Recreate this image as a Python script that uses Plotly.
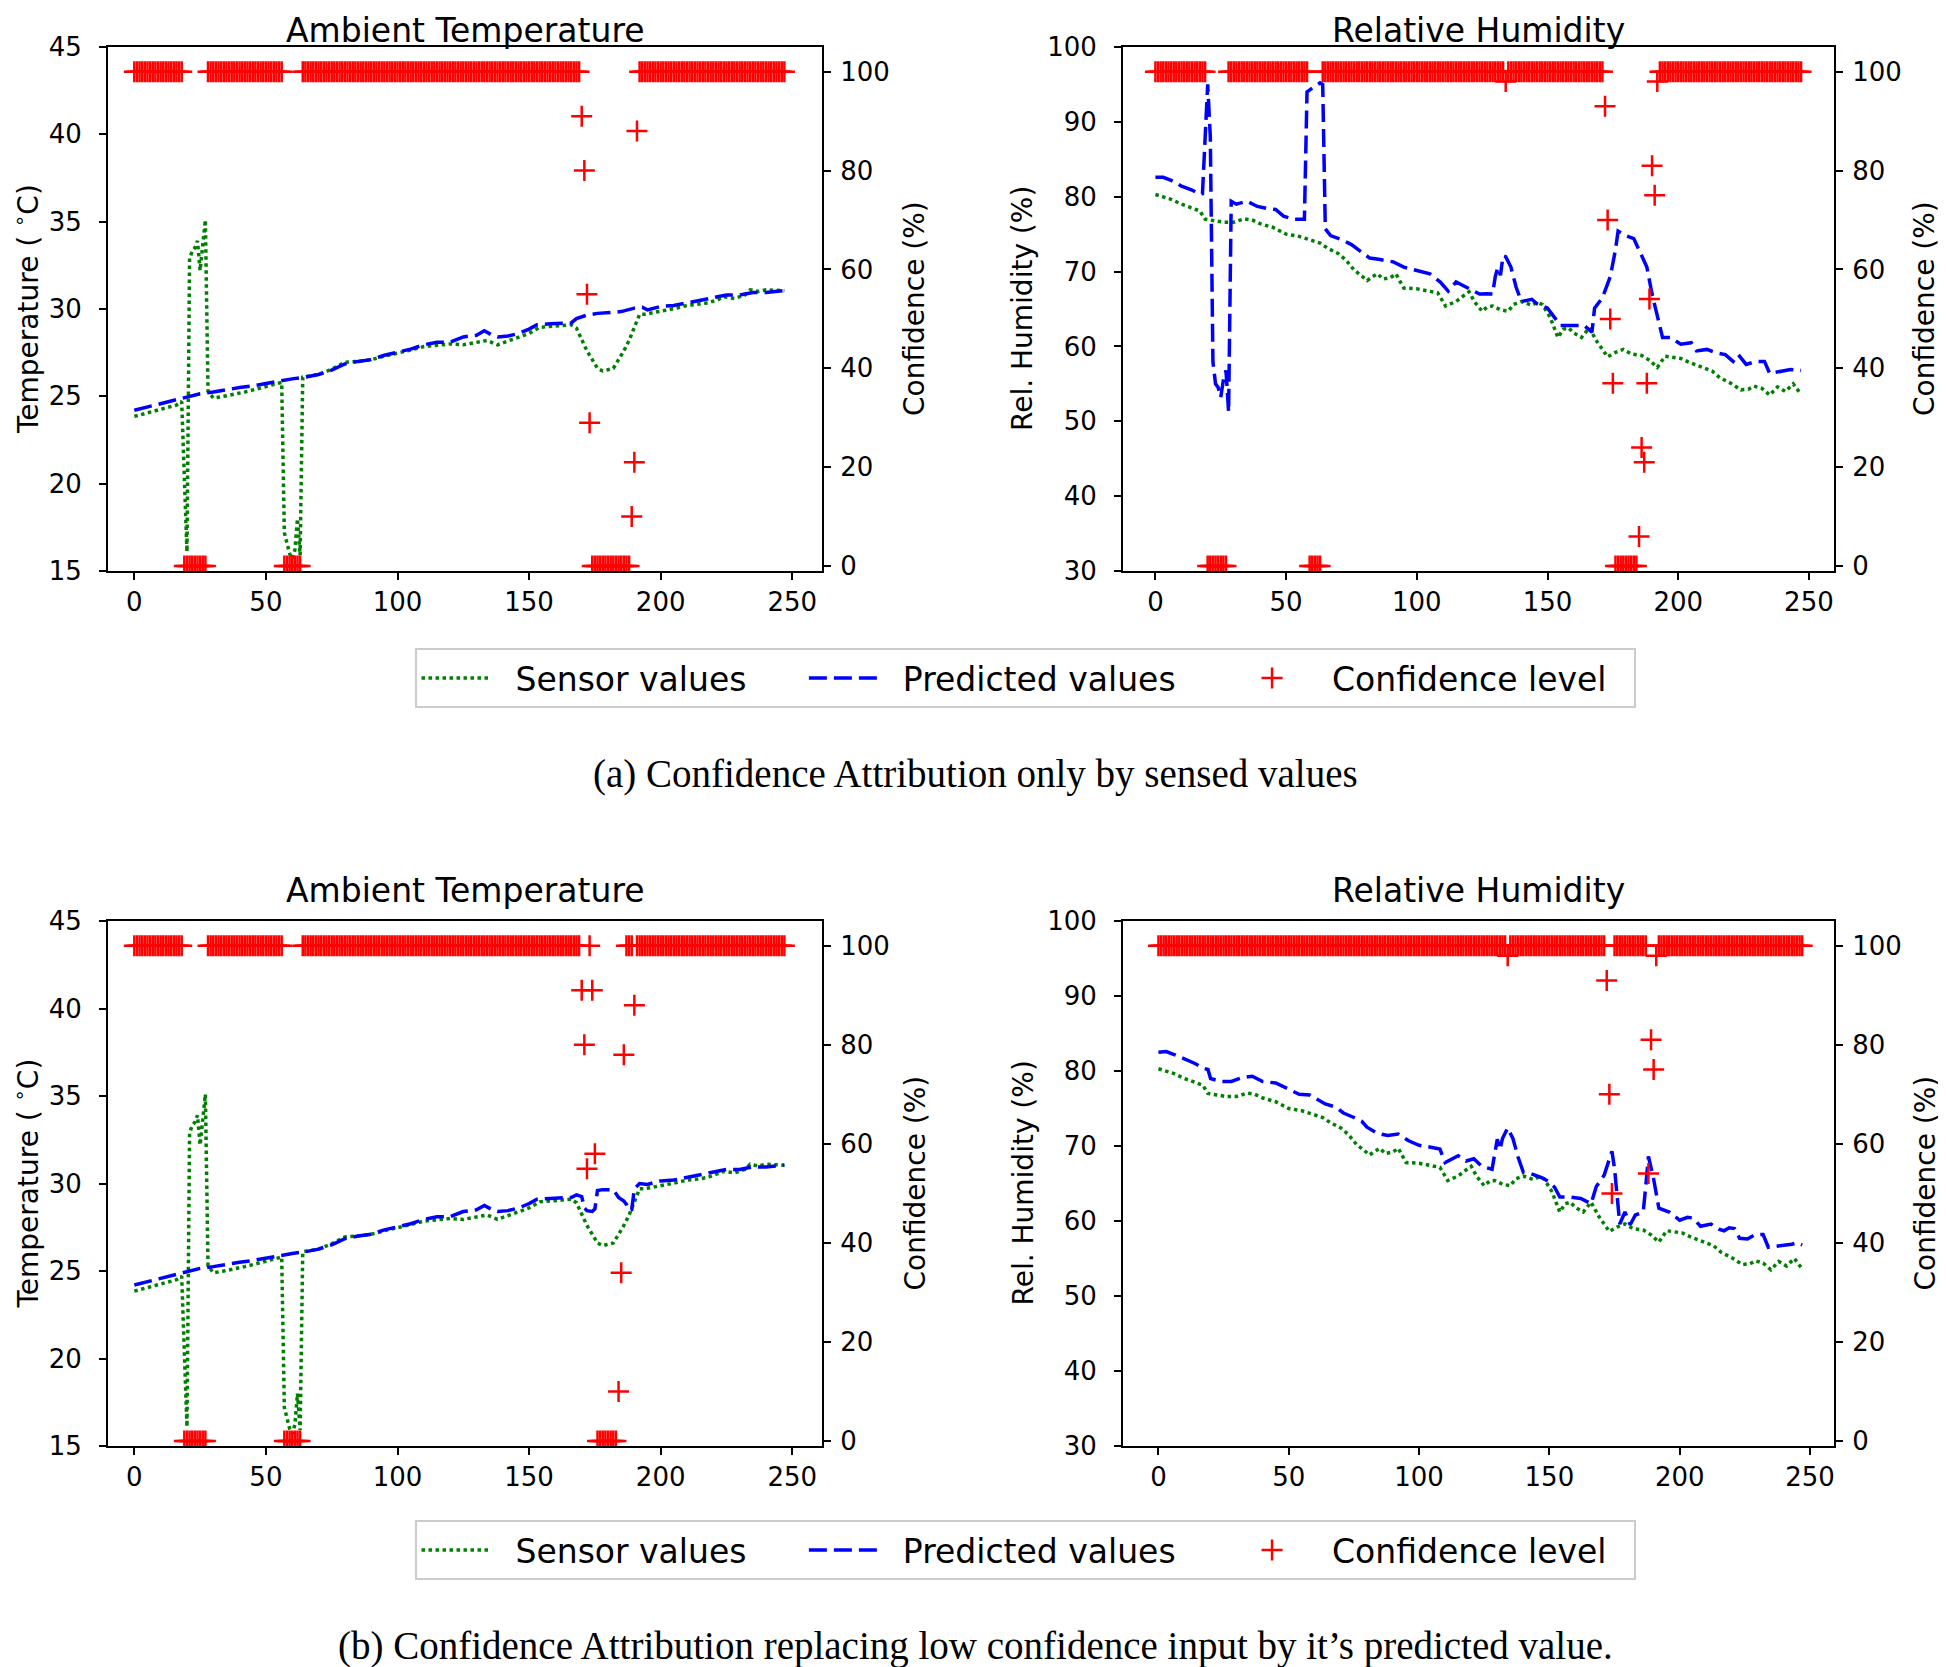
import plotly.graph_objects as go

W, H = 1946, 1667

# ---------------- data ----------------
temp_sensor_x = [0, 4, 8, 12, 16, 18, 19, 20, 21, 22, 23, 24, 25, 26, 27, 28, 30, 34, 38, 42, 46, 50, 54,
                 56, 57, 58, 59, 60, 61, 62, 63, 64, 66, 70, 75, 80, 85, 90, 95, 100, 105, 110, 115, 120,
                 125, 130, 134, 138, 142, 146, 150, 154, 158, 162, 166, 168, 170, 172, 174, 176, 178, 180,
                 182, 184, 186, 188, 190, 192, 194, 198, 202, 206, 210, 214, 218, 222, 224, 228, 232, 234,
                 237, 240, 244, 247]
temp_sensor = [23.85, 24.0, 24.15, 24.3, 24.5, 24.7, 20.3, 16.1, 32.9, 33.3, 33.5, 33.9, 32.2, 33.8, 35.1,
               25.3, 24.9, 25.0, 25.1, 25.25, 25.4, 25.55, 25.7, 25.8, 17.2, 16.6, 16.0, 15.7, 16.2, 18.0,
               15.9, 26.1, 26.15, 26.25, 26.55, 26.95, 27.0, 27.1, 27.3, 27.45, 27.65, 27.85, 27.95, 28.0,
               27.95, 28.1, 28.2, 27.95, 28.15, 28.35, 28.6, 28.95, 29.0, 29.05, 29.1, 28.9, 28.2, 27.6,
               27.1, 26.6, 26.45, 26.5, 26.6, 27.1, 27.6, 28.2, 28.9, 29.7, 29.7, 29.8, 29.9, 30.05, 30.2,
               30.25, 30.35, 30.55, 30.7, 30.6, 30.8, 31.1, 31.0, 31.1, 31.05, 31.05]

temp_pred_a_x = [0, 5, 10, 15, 20, 25, 30, 35, 40, 45, 50, 55, 60, 65, 70, 75, 80, 85, 90, 95, 100, 105,
                 110, 115, 120, 125, 130, 133, 136, 138, 142, 146, 150, 153, 158, 163, 166, 168, 172, 176,
                 180, 185, 190, 193, 195, 200, 205, 210, 215, 220, 225, 230, 235, 240, 247]
temp_pred_a = [24.2, 24.4, 24.6, 24.8, 25.0, 25.15, 25.25, 25.4, 25.5, 25.6, 25.75, 25.9, 26.0, 26.1,
               26.25, 26.5, 26.85, 27.0, 27.1, 27.35, 27.5, 27.7, 27.95, 28.1, 28.1, 28.4, 28.5, 28.75,
               28.5, 28.4, 28.45, 28.6, 28.85, 29.1, 29.15, 29.2, 29.2, 29.45, 29.65, 29.75, 29.8, 29.85,
               30.05, 30.1, 29.95, 30.15, 30.2, 30.35, 30.5, 30.6, 30.8, 30.8, 30.95, 30.95, 31.05]

temp_pred_b_x = [0, 5, 10, 15, 20, 25, 30, 35, 40, 45, 50, 55, 60, 65, 70, 75, 80, 85, 90, 95, 100, 105,
                 110, 115, 120, 125, 130, 133, 136, 138, 142, 146, 150, 153, 158, 163, 166, 168, 170, 171,
                 172, 174, 175, 176, 178, 182, 184, 186, 187, 188, 189, 190, 192, 195, 200, 205, 210, 215,
                 220, 225, 230, 235, 240, 247]
temp_pred_b = [24.2, 24.4, 24.6, 24.8, 25.0, 25.15, 25.25, 25.4, 25.5, 25.6, 25.75, 25.9, 26.0, 26.1,
               26.25, 26.5, 26.85, 27.0, 27.1, 27.35, 27.5, 27.7, 27.95, 28.1, 28.1, 28.4, 28.5, 28.75,
               28.5, 28.4, 28.45, 28.6, 28.85, 29.1, 29.15, 29.2, 29.2, 29.35, 29.25, 28.6, 28.45, 28.4,
               28.55, 29.6, 29.65, 29.65, 29.2, 29.0, 28.8, 28.45, 28.5, 29.7, 30.0, 29.95, 30.15, 30.2,
               30.35, 30.5, 30.6, 30.8, 30.8, 30.95, 30.95, 31.05]

hum_sensor_x = [0, 3, 6, 10, 14, 17, 19, 22, 26, 30, 34, 37, 40, 45, 50, 55, 60, 63, 66, 70, 73, 76, 79,
                81, 83, 85, 87, 90, 92, 95, 100, 105, 108, 111, 115, 118, 120, 122, 125, 127, 129, 132, 135,
                137, 140, 144, 146, 148, 151, 154, 156, 158, 160, 163, 166, 169, 173, 176, 179, 182, 186,
                189, 192, 195, 198, 201, 204, 207, 210, 213, 216, 220, 224, 227, 229, 232, 235, 238, 241,
                244, 247]
hum_sensor = [80.3, 80.0, 79.65, 79.0, 78.5, 78.1, 77.0, 76.8, 76.6, 76.6, 77.05, 76.9, 76.4, 75.9, 75.0,
              74.7, 74.2, 73.8, 73.1, 72.4, 71.5, 70.2, 69.4, 68.8, 69.3, 69.7, 69.0, 69.2, 69.7, 67.8,
              67.7, 67.4, 67.15, 65.4, 66.0, 66.8, 67.3, 66.0, 64.7, 65.3, 65.4, 64.9, 64.7, 65.6, 66.0,
              65.5, 65.9, 65.6, 63.9, 61.2, 62.3, 62.5, 61.8, 61.2, 62.5, 60.6, 58.6, 59.2, 59.6, 59.0,
              58.8, 58.15, 57.2, 58.7, 58.6, 58.4, 57.9, 57.5, 57.1, 56.7, 55.8, 55.1, 54.2, 54.3, 54.7,
              54.4, 53.5, 54.6, 54.0, 55.0, 53.6]

hum_pred_a_x = [0, 3, 6, 10, 14, 17, 18, 19, 20, 21, 22, 23, 24, 25, 26, 27, 28, 29, 31, 35, 39, 43, 46,
                49, 53, 57, 58, 60, 63, 64, 65, 67, 71, 75, 79, 82, 86, 91, 95, 100, 105, 109, 112, 115,
                119, 122, 124, 127, 129, 130, 131, 132, 133, 134, 136, 138, 140, 144, 146, 150, 153, 155,
                159, 164, 167, 168, 171, 174, 176, 177, 180, 183, 185, 188, 190, 192, 194, 197, 201, 205,
                207, 211, 214, 218, 221, 223, 226, 230, 233, 235, 239, 243, 247]
hum_pred_a = [82.6, 82.6, 82.2, 81.4, 80.9, 80.3, 80.4, 89.0, 95.0, 88.0, 58.0, 55.0, 54.5, 53.2, 55.5,
              56.8, 51.2, 79.4, 79.0, 79.4, 78.7, 78.4, 78.3, 77.4, 77.0, 77.0, 94.0, 94.5, 95.2, 95.0,
              75.7, 74.8, 74.3, 73.6, 72.6, 71.8, 71.6, 71.3, 70.6, 70.1, 69.7, 68.6, 67.4, 68.6, 67.9,
              67.4, 67.0, 67.05, 67.0, 69.3, 70.6, 69.5, 72.1, 72.0, 70.6, 67.9, 66.0, 66.3, 65.7, 65.1,
              63.7, 62.8, 62.8, 62.8, 61.9, 65.1, 66.5, 69.3, 72.9, 75.4, 74.8, 74.4, 72.9, 70.6, 67.0,
              64.2, 61.2, 61.2, 60.3, 60.5, 59.4, 59.6, 59.2, 58.9, 58.0, 58.9, 57.6, 58.0, 58.0, 56.4,
              56.7, 56.9, 56.8]

hum_pred_b_x = [0, 3, 6, 10, 14, 17, 19, 20, 24, 28, 32, 36, 40, 45, 50, 54, 58, 62, 64, 68, 71, 75, 78,
                80, 84, 88, 92, 96, 100, 105, 108, 110, 113, 115, 118, 121, 124, 128, 130, 131, 132, 134,
                136, 138, 140, 143, 147, 150, 152, 154, 158, 162, 166, 168, 171, 174, 175, 176, 177, 179,
                181, 183, 186, 187, 188, 190, 192, 196, 200, 203, 205, 208, 212, 215, 217, 219, 221, 223,
                226, 229, 232, 234, 237, 240, 243, 245, 247]
hum_pred_b = [82.5, 82.6, 82.2, 81.6, 81.0, 80.4, 80.2, 79.0, 78.6, 78.6, 79.1, 79.3, 78.6, 78.4, 77.5,
              76.9, 76.8, 76.0, 75.6, 75.2, 74.4, 73.8, 73.3, 72.5, 71.7, 71.4, 71.6, 70.7, 70.1, 69.8,
              69.6, 67.8, 68.4, 68.7, 68.0, 68.3, 67.3, 66.9, 70.9, 69.5, 71.0, 72.4, 71.0, 68.5, 66.5,
              66.3, 65.8, 65.2, 64.5, 63.2, 63.2, 63.0, 62.3, 64.6, 66.1, 69.3, 67.0, 63.0, 59.6, 61.2,
              59.5, 60.8, 61.2, 64.7, 68.6, 65.6, 61.7, 61.2, 60.1, 60.5, 60.4, 59.3, 59.6, 58.9, 58.7,
              59.1, 59.0, 57.7, 57.6, 58.2, 58.2, 56.5, 56.6, 56.8, 56.9, 57.1, 56.8]

# confidence level for every time step 0..247
conf_x = list(range(248))
conf_temp_a = [
    100, 100, 100, 100, 100, 100, 100, 100, 100, 100, 100, 100, 100, 100, 100, 100, 100, 100, 100, 0,
    0, 0, 0, 0, 0, 0, 0, 0, 100, 100, 100, 100, 100, 100, 100, 100, 100, 100, 100, 100,
    100, 100, 100, 100, 100, 100, 100, 100, 100, 100, 100, 100, 100, 100, 100, 100, 100, 0, 0, 0,
    0, 0, 0, 0, 100, 100, 100, 100, 100, 100, 100, 100, 100, 100, 100, 100, 100, 100, 100, 100,
    100, 100, 100, 100, 100, 100, 100, 100, 100, 100, 100, 100, 100, 100, 100, 100, 100, 100, 100, 100,
    100, 100, 100, 100, 100, 100, 100, 100, 100, 100, 100, 100, 100, 100, 100, 100, 100, 100, 100, 100,
    100, 100, 100, 100, 100, 100, 100, 100, 100, 100, 100, 100, 100, 100, 100, 100, 100, 100, 100, 100,
    100, 100, 100, 100, 100, 100, 100, 100, 100, 100, 100, 100, 100, 100, 100, 100, 100, 100, 100, 100,
    100, 100, 100, 100, 100, 100, 100, 100, 100, 100, 91, 80, 55, 29, 0, 0, 0, 0, 0, 0,
    0, 0, 0, 0, 0, 0, 0, 0, 0, 10, 21, 88, 100, 100, 100, 100, 100, 100, 100, 100,
    100, 100, 100, 100, 100, 100, 100, 100, 100, 100, 100, 100, 100, 100, 100, 100, 100, 100, 100, 100,
    100, 100, 100, 100, 100, 100, 100, 100, 100, 100, 100, 100, 100, 100, 100, 100, 100, 100, 100, 100,
    100, 100, 100, 100, 100, 100, 100, 100]
conf_temp_b = [
    100, 100, 100, 100, 100, 100, 100, 100, 100, 100, 100, 100, 100, 100, 100, 100, 100, 100, 100, 0,
    0, 0, 0, 0, 0, 0, 0, 0, 100, 100, 100, 100, 100, 100, 100, 100, 100, 100, 100, 100,
    100, 100, 100, 100, 100, 100, 100, 100, 100, 100, 100, 100, 100, 100, 100, 100, 100, 0, 0, 0,
    0, 0, 0, 0, 100, 100, 100, 100, 100, 100, 100, 100, 100, 100, 100, 100, 100, 100, 100, 100,
    100, 100, 100, 100, 100, 100, 100, 100, 100, 100, 100, 100, 100, 100, 100, 100, 100, 100, 100, 100,
    100, 100, 100, 100, 100, 100, 100, 100, 100, 100, 100, 100, 100, 100, 100, 100, 100, 100, 100, 100,
    100, 100, 100, 100, 100, 100, 100, 100, 100, 100, 100, 100, 100, 100, 100, 100, 100, 100, 100, 100,
    100, 100, 100, 100, 100, 100, 100, 100, 100, 100, 100, 100, 100, 100, 100, 100, 100, 100, 100, 100,
    100, 100, 100, 100, 100, 100, 100, 100, 100, 100, 91, 80, 55, 100, 91, 58, 0, 0, 0, 0,
    0, 0, 0, 0, 10, 34, 78, 100, 100, 100, 88, 100, 100, 100, 100, 100, 100, 100, 100, 100,
    100, 100, 100, 100, 100, 100, 100, 100, 100, 100, 100, 100, 100, 100, 100, 100, 100, 100, 100, 100,
    100, 100, 100, 100, 100, 100, 100, 100, 100, 100, 100, 100, 100, 100, 100, 100, 100, 100, 100, 100,
    100, 100, 100, 100, 100, 100, 100, 100]
conf_hum_a = [
    100, 100, 100, 100, 100, 100, 100, 100, 100, 100, 100, 100, 100, 100, 100, 100, 100, 100, 100, 100,
    0, 0, 0, 0, 0, 0, 0, 0, 100, 100, 100, 100, 100, 100, 100, 100, 100, 100, 100, 100,
    100, 100, 100, 100, 100, 100, 100, 100, 100, 100, 100, 100, 100, 100, 100, 100, 100, 100, 100, 0,
    0, 0, 0, 0, 100, 100, 100, 100, 100, 100, 100, 100, 100, 100, 100, 100, 100, 100, 100, 100,
    100, 100, 100, 100, 100, 100, 100, 100, 100, 100, 100, 100, 100, 100, 100, 100, 100, 100, 100, 100,
    100, 100, 100, 100, 100, 100, 100, 100, 100, 100, 100, 100, 100, 100, 100, 100, 100, 100, 100, 100,
    100, 100, 100, 100, 100, 100, 100, 100, 100, 100, 100, 100, 100, 100, 98, 100, 100, 100, 100, 100,
    100, 100, 100, 100, 100, 100, 100, 100, 100, 100, 100, 100, 100, 100, 100, 100, 100, 100, 100, 100,
    100, 100, 100, 100, 100, 100, 100, 100, 100, 100, 100, 100, 93, 70, 50, 37, 0, 0, 0, 0,
    0, 0, 0, 0, 0, 6, 24, 21, 37, 54, 81, 75, 98, 100, 100, 100, 100, 100, 100, 100,
    100, 100, 100, 100, 100, 100, 100, 100, 100, 100, 100, 100, 100, 100, 100, 100, 100, 100, 100, 100,
    100, 100, 100, 100, 100, 100, 100, 100, 100, 100, 100, 100, 100, 100, 100, 100, 100, 100, 100, 100,
    100, 100, 100, 100, 100, 100, 100, 100]
conf_hum_b = [
    100, 100, 100, 100, 100, 100, 100, 100, 100, 100, 100, 100, 100, 100, 100, 100, 100, 100, 100, 100,
    100, 100, 100, 100, 100, 100, 100, 100, 100, 100, 100, 100, 100, 100, 100, 100, 100, 100, 100, 100,
    100, 100, 100, 100, 100, 100, 100, 100, 100, 100, 100, 100, 100, 100, 100, 100, 100, 100, 100, 100,
    100, 100, 100, 100, 100, 100, 100, 100, 100, 100, 100, 100, 100, 100, 100, 100, 100, 100, 100, 100,
    100, 100, 100, 100, 100, 100, 100, 100, 100, 100, 100, 100, 100, 100, 100, 100, 100, 100, 100, 100,
    100, 100, 100, 100, 100, 100, 100, 100, 100, 100, 100, 100, 100, 100, 100, 100, 100, 100, 100, 100,
    100, 100, 100, 100, 100, 100, 100, 100, 100, 100, 100, 100, 100, 100, 98, 100, 100, 100, 100, 100,
    100, 100, 100, 100, 100, 100, 100, 100, 100, 100, 100, 100, 100, 100, 100, 100, 100, 100, 100, 100,
    100, 100, 100, 100, 100, 100, 100, 100, 100, 100, 100, 100, 93, 70, 50, 100, 100, 100, 100, 100,
    100, 100, 100, 100, 100, 100, 100, 100, 54, 81, 75, 98, 100, 100, 100, 100, 100, 100, 100, 100,
    100, 100, 100, 100, 100, 100, 100, 100, 100, 100, 100, 100, 100, 100, 100, 100, 100, 100, 100, 100,
    100, 100, 100, 100, 100, 100, 100, 100, 100, 100, 100, 100, 100, 100, 100, 100, 100, 100, 100, 100,
    100, 100, 100, 100, 100, 100, 100, 100]

x_ticks = [0, 50, 100, 150, 200, 250]
temp_ticks = [15, 20, 25, 30, 35, 40, 45]
hum_ticks = [30, 40, 50, 60, 70, 80, 90, 100]
conf_ticks = [0, 20, 40, 60, 80, 100]

titles = ["Ambient Temperature", "Relative Humidity"]
left_labels = ["Temperature ( <sup>∘</sup>C)", "Rel. Humidity (%)"]
right_label = "Confidence (%)"
legend_names = ["Sensor values", "Predicted values", "Confidence level"]
captions = ["(a) Confidence Attribution only by sensed values",
            "(b) Confidence Attribution replacing low confidence input by it’s predicted value."]

# ---------------- layout geometry (px in the screenshot) ----------------
FONT = "DejaVu Sans"
OFF = 8  # page body margin
cols = [(108, 822), (1123, 1834)]
rows = [(47, 571), (921, 1446)]
x_ranges = {(0, 0): [-10.0, 261.3], (1, 0): [-10.0, 261.3],
            (0, 1): [-12.4, 259.6], (1, 1): [-13.6, 259.2]}
NB = "\u00a0"
# padding (non-breaking spaces) to reproduce the legend's column spacing
legend_pad = [(2, 5), (2, 5), (2, 2)]


def fx(p):
    return (p - OFF) / W


def fy(p):
    return 1 - (p - OFF) / H


fig = go.Figure()

panels = [
    (0, 0, "x", "y", "y2", temp_sensor_x, temp_sensor, temp_pred_a_x, temp_pred_a, conf_temp_a),
    (0, 1, "x2", "y3", "y4", hum_sensor_x, hum_sensor, hum_pred_a_x, hum_pred_a, conf_hum_a),
    (1, 0, "x3", "y5", "y6", temp_sensor_x, temp_sensor, temp_pred_b_x, temp_pred_b, conf_temp_b),
    (1, 1, "x4", "y7", "y8", hum_sensor_x, hum_sensor, hum_pred_b_x, hum_pred_b, conf_hum_b),
]

axis_common = dict(showline=True, linecolor="black", linewidth=2, ticks="outside", ticklen=7,
                   tickwidth=2, tickcolor="black", showgrid=False, zeroline=False, automargin=False,
                   tickfont=dict(family=FONT, size=26, color="black"))


def axname(a):
    return ("xaxis" if a[0] == "x" else "yaxis") + a[1:]


def lname(i):
    a, b = legend_pad[i]
    return NB * a + legend_names[i] + NB * b


annotations = []
for (r, c, xa, ya, ca, sx, sy, px_, py_, cf) in panels:
    leg = "legend" if r == 0 else "legend2"
    show = (c == 0)
    fig.add_trace(go.Scatter(x=sx, y=sy, xaxis=xa, yaxis=ya, mode="lines", name=lname(0),
                             line=dict(color="#008000", width=3.5, dash="3.5px,3.5px"),
                             showlegend=show, legend=leg))
    fig.add_trace(go.Scatter(x=px_, y=py_, xaxis=xa, yaxis=ya, mode="lines", name=lname(1),
                             line=dict(color="#0000ff", width=3.5, dash="18px,7px"),
                             showlegend=show, legend=leg))
    fig.add_trace(go.Scatter(x=conf_x, y=cf, xaxis=xa, yaxis=ca, mode="markers", name=lname(2),
                             marker=dict(symbol="cross-thin", size=15, color="#ff0000",
                                         line=dict(color="#ff0000", width=2.5)),
                             showlegend=show, legend=leg))

    x0, x1 = cols[c]
    y0, y1 = rows[r]
    xd = [fx(x0), fx(x1)]
    yd = [fy(y1), fy(y0)]
    fig.layout[axname(xa)] = dict(axis_common, domain=xd, anchor=ya, range=x_ranges[(r, c)],
                                  tickvals=x_ticks, mirror=True)
    if c == 0:
        fig.layout[axname(ya)] = dict(axis_common, domain=yd, anchor=xa, range=[15, 45],
                                      tickvals=temp_ticks, ticklabelstandoff=12)
    else:
        fig.layout[axname(ya)] = dict(axis_common, domain=yd, anchor=xa, range=[30, 100],
                                      tickvals=hum_ticks, ticklabelstandoff=12)
    fig.layout[axname(ca)] = dict(axis_common, overlaying=ya, side="right", anchor=xa,
                                  range=[-1, 105], tickvals=conf_ticks, ticklabelstandoff=4)

    cy = fy((y0 + y1) / 2)
    ty = 31 if r == 0 else y0 - 30
    annotations.append(dict(text=titles[c], x=fx((x0 + x1) / 2), y=fy(ty), xref="paper",
                            yref="paper", showarrow=False, xanchor="center", yanchor="middle",
                            font=dict(family=FONT, size=33, color="black")))
    lx = 27 if c == 0 else 1023
    annotations.append(dict(text=left_labels[c], x=fx(lx), y=cy, xref="paper", yref="paper",
                            showarrow=False, textangle=-90, xanchor="center", yanchor="middle",
                            font=dict(family=FONT, size=28, color="black")))
    rx = 915 if c == 0 else 1925
    annotations.append(dict(text=right_label, x=fx(rx), y=cy, xref="paper", yref="paper",
                            showarrow=False, textangle=-90, xanchor="center", yanchor="middle",
                            font=dict(family=FONT, size=28, color="black")))

annotations.append(dict(text=captions[0], x=fx(975), y=fy(774), xref="paper", yref="paper",
                        showarrow=False, xanchor="center", yanchor="middle",
                        font=dict(family="Liberation Serif", size=39, color="black")))
annotations.append(dict(text=captions[1], x=fx(975), y=fy(1646), xref="paper", yref="paper",
                        showarrow=False, xanchor="center", yanchor="middle",
                        font=dict(family="Liberation Serif", size=39, color="black")))

legend_style = dict(orientation="h", xanchor="center", yanchor="middle",
                    font=dict(family=FONT, size=33, color="black"), bordercolor="#cccccc",
                    borderwidth=2, bgcolor="white", itemwidth=68)

fig.update_layout(
    width=W, height=H, margin=dict(l=0, r=0, t=0, b=0, autoexpand=False),
    paper_bgcolor="white", plot_bgcolor="white",
    annotations=annotations,
    legend=dict(legend_style, x=fx(1025), y=fy(678)),
    legend2=dict(legend_style, x=fx(1025), y=fy(1550)),
)

fig.write_html("out.html")
